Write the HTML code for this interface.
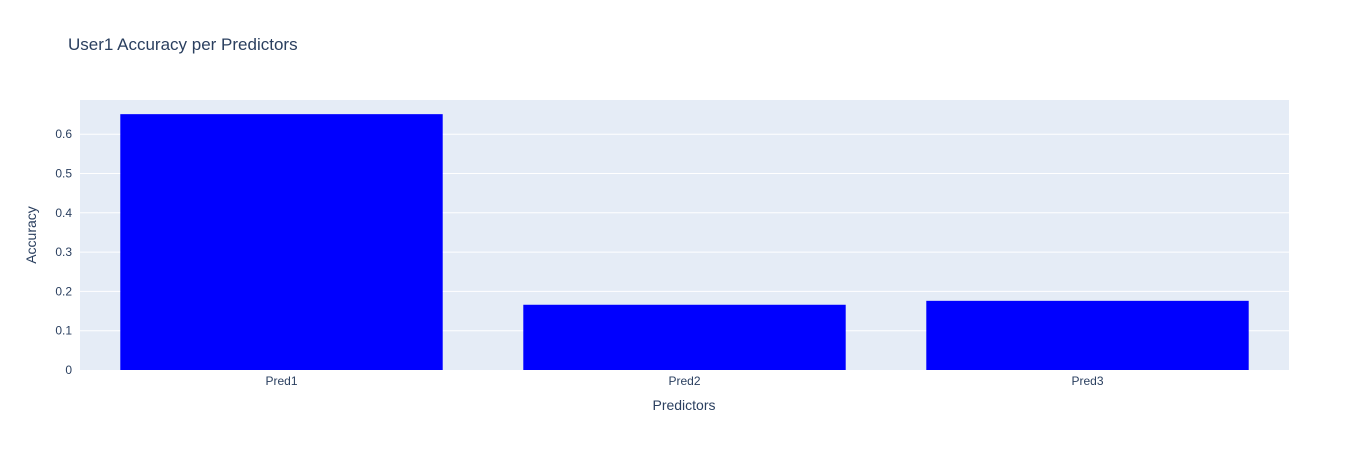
<!DOCTYPE html>
<html><head><meta charset="utf-8"><style>
body{margin:0;background:#fff;font-family:"Liberation Sans",sans-serif;}
svg text{font-family:"Liberation Sans",sans-serif;}
</style></head><body>
<svg id="chart" width="1369" height="450">
<rect width="1369" height="450" fill="#fff"/>
<text x="68" y="50" font-size="17" fill="#2a3f5f">User1 Accuracy per Predictors</text>
<rect x="80" y="100" width="1209" height="270" fill="#e5ecf6"/>
<g id="grid"></g><g id="bars"></g><g id="ticks"></g>
<text x="684" y="410" font-size="14" fill="#2a3f5f" text-anchor="middle">Predictors</text>
<text transform="translate(36,235) rotate(-90)" font-size="14" fill="#2a3f5f" text-anchor="middle">Accuracy</text>
</svg>
<script>
const categories=["Pred1","Pred2","Pred3"];
const values=[0.651,0.166,0.176];
const yTicks=[0,0.1,0.2,0.3,0.4,0.5,0.6];
const yTickLabels=["0","0.1","0.2","0.3","0.4","0.5","0.6"];
const NS="http://www.w3.org/2000/svg";
const L=80,R=1289,T=100,B=370;
function y(v){return B-v*393;}
const band=(R-L)/categories.length;
function x(i){return L+band*(i+0.5);}
const grid=document.getElementById('grid'),bars=document.getElementById('bars'),ticks=document.getElementById('ticks');
function mk(tag,attrs,parent){const e=document.createElementNS(NS,tag);for(const k in attrs)e.setAttribute(k,attrs[k]);parent.appendChild(e);return e;}
yTicks.forEach((t,i)=>{
  if(t>0){const g=mk('line',{x1:L,x2:R,y1:y(t),y2:y(t),stroke:'#fff','stroke-width':1},grid);
  
  }
  const tx=mk('text',{x:L-8,y:y(t)+4,'font-size':12,fill:'#2a3f5f','text-anchor':'end'},ticks);
  tx.textContent=yTickLabels[i];
  
  
});
categories.forEach((c,i)=>{
  const w=band*0.8;
  const r=mk('rect',{x:x(i)-w/2,y:y(values[i]),width:w,height:B-y(values[i]),fill:'#0000ff'},bars);
  
  
  const tx=mk('text',{x:x(i),y:B+15,'font-size':12,fill:'#2a3f5f','text-anchor':'middle'},ticks);
  tx.textContent=c;
  
  
});
</script>
</body></html>
